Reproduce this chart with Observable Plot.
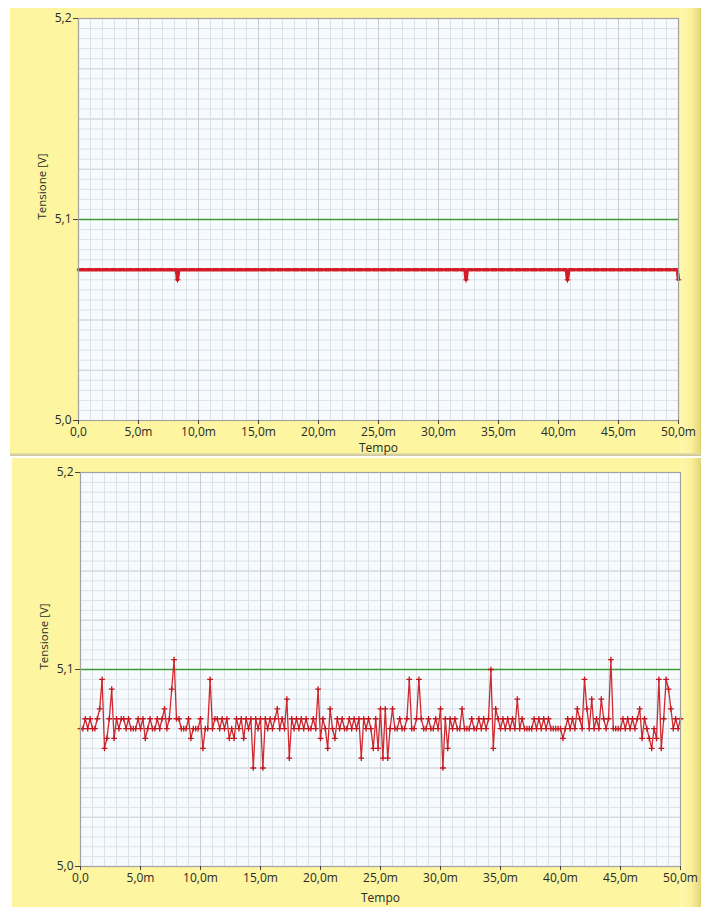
<!DOCTYPE html>
<html><head><meta charset="utf-8">
<script src="https://cdn.jsdelivr.net/npm/d3@7"></script>
<script src="https://cdn.jsdelivr.net/npm/@observablehq/plot@0.6"></script>
<style>
html,body{margin:0;padding:0;background:#fff;}
body{width:701px;height:907px;position:relative;overflow:hidden;font-family:"Open Sans",sans-serif;}
.panel{position:absolute;background:#fdf59f;}
.bevel{position:absolute;top:0;right:0;width:21px;height:100%;background:linear-gradient(to right,#fff8ad 0%,#fbf09a 55%,#e2d476 100%);}
.shadow{position:absolute;left:0;bottom:0;width:100%;height:3px;background:linear-gradient(to bottom,#e9e1a8,#c9c29a);}
.panel svg{position:absolute;left:0;top:0;}
</style></head><body>
<div id="p1" class="panel" style="left:10px;top:8px;width:691px;height:448px"><div class="bevel"></div><div class="shadow"></div></div>
<div id="p2" class="panel" style="left:12px;top:458px;width:689px;height:449px"><div class="bevel"></div></div>
<script>
// ---- axes (tick values and labels)
const xTicks = [0, 5, 10, 15, 20, 25, 30, 35, 40, 45, 50];
const xTickLabels = ["0,0", "5,0m", "10,0m", "15,0m", "20,0m", "25,0m", "30,0m", "35,0m", "40,0m", "45,0m", "50,0m"];
const yTicks = [5.0, 5.1, 5.2];
const yTickLabels = ["5,0", "5,1", "5,2"];
const xTitle = "Tempo";
const yTitle = "Tensione [V]";
const threshold = 5.1;

// ---- top panel: steady reading with three short dips (time in ms, volts)
const p1Time = [0, 8.15, 8.25, 8.35, 32.2, 32.3, 32.4, 40.65, 40.75, 40.85, 49.9, 50];
const p1Volt = [5.075, 5.075, 5.07, 5.075, 5.075, 5.07, 5.075, 5.075, 5.07, 5.075, 5.075, 5.07];
const p1DipTime = [8.25, 32.3, 40.75, 50];
const p1DipVolt = [5.07, 5.07, 5.07, 5.07];

// ---- bottom panel: noisy reading, one sample every 0.2 ms (volts)
const p2Step = 0.2;
const p2Volt = [
  5.07,5.07,5.075,5.07,5.075,5.07,5.07,5.075,5.08,5.095,
  5.06,5.065,5.075,5.09,5.065,5.075,5.07,5.075,5.075,5.07,
  5.075,5.07,5.07,5.07,5.075,5.07,5.075,5.065,5.07,5.075,
  5.07,5.07,5.075,5.07,5.075,5.08,5.07,5.075,5.09,5.105,
  5.075,5.075,5.07,5.07,5.07,5.075,5.065,5.07,5.07,5.07,
  5.075,5.06,5.07,5.07,5.095,5.07,5.075,5.075,5.07,5.075,
  5.07,5.075,5.065,5.07,5.065,5.075,5.07,5.075,5.065,5.075,
  5.07,5.075,5.05,5.075,5.07,5.075,5.05,5.075,5.07,5.075,
  5.07,5.075,5.08,5.07,5.075,5.07,5.085,5.055,5.075,5.07,
  5.075,5.07,5.075,5.07,5.075,5.07,5.07,5.075,5.07,5.09,
  5.065,5.075,5.07,5.06,5.08,5.07,5.065,5.075,5.07,5.075,
  5.07,5.07,5.075,5.07,5.075,5.07,5.075,5.055,5.075,5.07,
  5.075,5.07,5.06,5.075,5.06,5.08,5.055,5.08,5.055,5.07,
  5.08,5.07,5.07,5.075,5.07,5.07,5.075,5.095,5.07,5.07,
  5.075,5.095,5.075,5.07,5.07,5.075,5.07,5.07,5.075,5.07,
  5.08,5.05,5.075,5.06,5.075,5.07,5.075,5.07,5.07,5.08,
  5.07,5.07,5.07,5.075,5.07,5.07,5.075,5.07,5.075,5.07,
  5.075,5.10,5.06,5.08,5.075,5.07,5.075,5.07,5.075,5.07,
  5.075,5.07,5.085,5.07,5.075,5.07,5.07,5.07,5.07,5.075,
  5.07,5.075,5.07,5.075,5.07,5.075,5.07,5.07,5.07,5.07,
  5.07,5.065,5.07,5.075,5.07,5.075,5.07,5.08,5.075,5.07,
  5.095,5.08,5.07,5.085,5.07,5.075,5.07,5.085,5.075,5.07,
  5.075,5.105,5.07,5.07,5.07,5.07,5.075,5.07,5.075,5.07,
  5.075,5.07,5.075,5.08,5.065,5.075,5.07,5.065,5.06,5.07,
  5.065,5.095,5.06,5.075,5.095,5.09,5.08,5.07,5.075,5.07,
  5.075
];
const p2 = p2Volt.map((v, i) => ({t: i * p2Step, v}));
const p1 = p1Time.map((t, i) => ({t, v: p1Volt[i]}));
const p1Dips = p1DipTime.map((t, i) => ({t, v: p1DipVolt[i]}));

const minorX = d3.range(0, 50.0001, 1);
const minorY = d3.range(5.0, 5.2001, 0.005);
const majorY = d3.range(5.0, 5.2001, 0.025);

function makeChart(w, h, m, dataMarks) {
  return Plot.plot({
    width: w, height: h,
    marginLeft: m.left, marginRight: m.right, marginTop: m.top, marginBottom: m.bottom,
    style: {background: "transparent", fontFamily: "'Open Sans', sans-serif", fontSize: "12px", color: "#2a2a2a", overflow: "visible"},
    x: {domain: [0, 50]},
    y: {domain: [5.0, 5.2]},
    marks: [
      Plot.frame({fill: "#f8fbfd", stroke: null}),
      Plot.ruleX(minorX, {stroke: "#dbe3ea", strokeWidth: 1}),
      Plot.ruleY(minorY, {stroke: "#dbe3ea", strokeWidth: 1}),
      Plot.ruleY(majorY, {stroke: "#d0d6db", strokeWidth: 1}),
      Plot.ruleX(xTicks, {stroke: "#c6ccd1", strokeWidth: 1}),
      Plot.ruleY([threshold], {stroke: "#3c9a34", strokeWidth: 1.3}),
      ...dataMarks,
      Plot.frame({stroke: "#a2a2a2", strokeWidth: 1.2}),
      Plot.axisX({ticks: xTicks, tickFormat: (d, i) => xTickLabels[i], tickSize: 4, tickPadding: 3, label: null, stroke: "#444"}),
      Plot.axisY({ticks: yTicks, tickFormat: (d, i) => yTickLabels[i], tickSize: 5, tickPadding: 2, label: null, stroke: "#444"}),
      Plot.text([xTitle], {frameAnchor: "bottom", dy: m.xTitleDy, fontSize: 12, fill: "#2a2a2a"}),
      Plot.text([yTitle], {frameAnchor: "left", dx: m.yTitleDx, rotate: -90, fontSize: 11.5, fill: "#2a2a2a"})
    ]
  });
}

const c1 = makeChart(691, 448, {left: 68, right: 23, top: 10, bottom: 36, xTitleDy: 31, yTitleDx: -36}, [
  Plot.line(p1, {x: "t", y: "v", stroke: "#d8202a", strokeWidth: 1.2}),
  Plot.line(p1, {x: "t", y: "v", stroke: "#d41c26", strokeWidth: 3.4, strokeDasharray: "6,2"}),
  Plot.dot(p1Dips, {x: "t", y: "v", symbol: "plus", r: 2, stroke: "#c01820", strokeWidth: 1})
]);
document.getElementById("p1").appendChild(c1);

const c2 = makeChart(689, 449, {left: 68, right: 21, top: 14, bottom: 41, xTitleDy: 35, yTitleDx: -36}, [
  Plot.line(p2, {x: "t", y: "v", stroke: "#d02a30", strokeWidth: 1.3}),
  Plot.dot(p2, {x: "t", y: "v", symbol: "plus", r: 2, stroke: "#c4141c", strokeWidth: 1.3})
]);
document.getElementById("p2").appendChild(c2);
</script>
</body></html>
